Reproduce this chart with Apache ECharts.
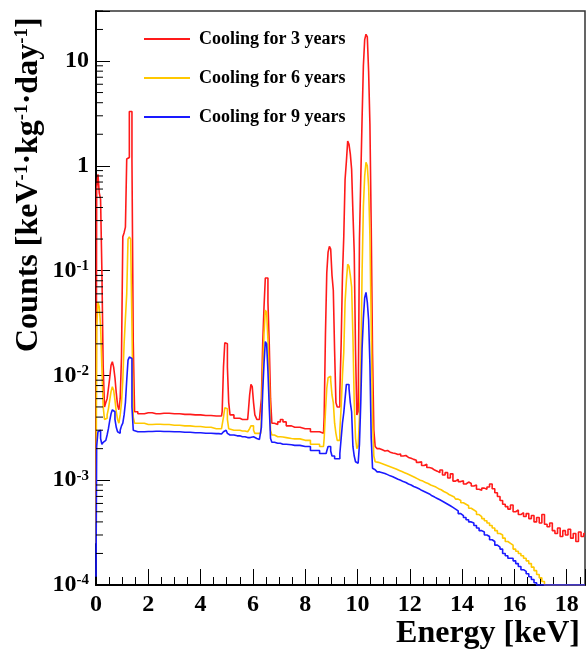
<!DOCTYPE html>
<html>
<head>
<meta charset="utf-8">
<script src="https://cdn.jsdelivr.net/npm/echarts@6/dist/echarts.min.js"></script>
<style>
html,body{margin:0;padding:0;background:#fff;}
#chart{width:587px;height:653px;}
</style>
</head>
<body>
<div id="chart"></div>
<script>
// ---- Energy bins (keV) ----
const energy = [
  0,0.05,0.1,0.15,0.2,0.25,0.3,0.35,0.4,0.45,0.5,0.55,0.6,0.65,0.7,0.75,0.8,0.85,0.9,0.95,1.0,1.05,1.1,1.15,1.2,1.25,1.3,1.35,1.4,1.45,1.5,
  1.7,2.0,2.3,2.6,3.0,3.4,3.8,4.2,4.6,4.8,
  4.85,4.9,4.95,5.0,5.05,5.1,5.15,5.4,5.6,5.8,5.85,5.9,5.95,6.0,6.05,6.1,6.2,6.3,6.35,6.4,6.45,6.5,6.55,6.6,6.65,6.7,6.75,
  6.9,7.0,7.1,7.2,7.35,7.6,8.0,8.4,8.7,
  8.75,8.8,8.85,8.9,8.95,9.0,9.05,9.1,9.15,9.2,9.25,9.3,9.35,9.4,9.45,9.5,9.55,9.6,9.65,9.7,9.75,9.8,9.85,9.9,9.95,10.0,10.05,10.1,10.15,10.2,10.25,10.3,10.35,10.4,10.45,10.5,10.55,10.6,10.65,10.7,
  10.8,10.9,11.0,11.1,11.2,11.3,11.4,11.5,11.6,11.7,11.8,11.9,12.0,12.1,12.2,12.3,12.4,12.5,12.6,12.7,12.8,12.9,13.0,13.1,13.2,13.3,13.4,13.5,13.6,13.7,13.8,13.9,14.0,14.1,14.2,14.3,14.4,14.5,14.6,14.7,14.8,14.9,15.0,15.1,15.2,15.3,15.4,15.5,15.6,15.7,15.8,15.9,16.0,16.1,16.2,16.3,16.4,16.5,16.6,16.7,16.8,16.9,17.0,17.1,17.2,17.3,17.4,17.5,17.6,17.7,17.8,17.9,18.0,18.1,18.2,18.3,18.4,18.5,18.6,18.7
];

// ---- Cooling for 3 years ----
const cooling3 = [
  0.0004,0.6,0.83,0.55,0.48,0.1,0.012,0.005,0.0055,0.006,0.0075,0.0095,0.0125,0.0135,0.012,0.0095,0.0068,0.0052,0.0047,0.006,0.015,0.21,0.23,0.26,1.16,1.2,3.3,3.3,1.15,0.02,0.0045,
  0.0043,0.0044,0.0043,0.00435,0.0043,0.00425,0.0042,0.00415,0.0041,0.0041,
  0.0045,0.012,0.0205,0.02,0.012,0.0055,0.0042,0.0039,0.0038,0.0038,0.0045,0.0065,0.0082,0.0078,0.0055,0.0042,0.0038,0.0038,0.006,0.02,0.045,0.085,0.085,0.05,0.02,0.006,0.0035,
  0.0034,0.0036,0.0038,0.0036,0.0033,0.0032,0.0031,0.0029,0.0028,
  0.004,0.025,0.095,0.15,0.17,0.16,0.09,0.065,0.017,0.0055,0.005,0.005,0.007,0.02,0.09,0.21,0.74,1.1,1.72,1.6,1.3,0.93,0.36,0.15,0.017,0.0042,0.0045,0.2,0.75,2.8,9,16,18,17,8,2.5,0.26,0.016,0.003,0.0021,
  0.002,0.00195,0.0019,0.00192,0.00185,0.00182,0.0018,0.00176,0.00178,0.0017,0.00172,0.00165,0.00162,0.00158,0.00155,0.00148,0.0015,0.00138,0.00142,0.00132,0.0013,0.00125,0.00122,0.00118,0.00125,0.00112,0.00118,0.00105,0.00115,0.00098,0.00102,0.00097,0.00099,0.00092,0.00096,0.00093,0.00088,0.0009,0.00082,0.0008,0.00084,0.00082,0.00086,0.00092,0.00083,0.00076,0.0007,0.00064,0.00059,0.00056,0.00053,0.00058,0.0005,0.00052,0.00047,0.00049,0.00045,0.00048,0.00043,0.00046,0.0004,0.00044,0.00039,0.00047,0.00038,0.00036,0.00039,0.00033,0.00031,0.00035,0.00029,0.00033,0.0003,0.00034,0.00028,0.00031,0.00026,0.00032,0.00029,0.00031
];

// ---- Cooling for 6 years ----
const cooling6 = [
  0.00025,0.028,0.05,0.045,0.03,0.012,0.005,0.0038,0.0039,0.0042,0.0048,0.0058,0.007,0.0078,0.0072,0.0058,0.0045,0.0038,0.0035,0.0042,0.0055,0.009,0.02,0.035,0.06,0.2,0.21,0.2,0.03,0.004,0.0035,
  0.0035,0.0034,0.00342,0.0034,0.00335,0.0033,0.00325,0.0032,0.0031,0.0031,
  0.0032,0.004,0.0049,0.0048,0.0038,0.0031,0.003,0.003,0.00295,0.0029,0.003,0.0031,0.0033,0.0033,0.003,0.0028,0.0028,0.0028,0.004,0.011,0.025,0.042,0.04,0.022,0.009,0.003,0.0027,
  0.0026,0.0026,0.00258,0.00255,0.0025,0.00248,0.0024,0.0022,0.0021,
  0.0025,0.0045,0.0075,0.0095,0.0098,0.009,0.0065,0.0055,0.0035,0.0028,0.0024,0.0024,0.003,0.005,0.01,0.0166,0.05,0.08,0.115,0.11,0.09,0.07,0.0235,0.0055,0.0025,0.002,0.0021,0.004,0.0114,0.096,0.41,0.8,1.08,1.0,0.64,0.215,0.03,0.0038,0.0017,0.0015,
  0.00148,0.00145,0.00142,0.00139,0.00136,0.00133,0.0013,0.00127,0.00124,0.00121,0.00118,0.00115,0.00112,0.00109,0.00106,0.00103,0.001,0.00098,0.00095,0.00093,0.0009,0.00088,0.00086,0.00083,0.00081,0.00078,0.00076,0.00073,0.00071,0.00069,0.00066,0.00064,0.00061,0.00059,0.00057,0.00054,0.00052,0.0005,0.00047,0.00045,0.00043,0.00041,0.00039,0.00037,0.00035,0.00033,0.00031,0.0003,0.00028,0.00026,0.00025,0.00024,0.00022,0.00021,0.0002,0.00019,0.00018,0.00017,0.00016,0.000148,0.000137,0.000126,0.000117,0.000108,0.0001,
  0.0001,0.0001,0.0001,0.0001,0.0001,0.0001,0.0001,0.0001,0.0001,0.0001,0.0001,0.0001,0.0001,0.0001,0.0001
];

// ---- Cooling for 9 years ----
const cooling9 = [
  0.00012,0.0021,0.0029,0.003,0.0025,0.0022,0.0023,0.0024,0.0025,0.0027,0.0031,0.0037,0.0043,0.0047,0.0045,0.0038,0.0032,0.0029,0.0028,0.003,0.0033,0.0035,0.0042,0.0055,0.009,0.014,0.015,0.0145,0.005,0.003,0.0029,
  0.0029,0.00292,0.00293,0.00292,0.0029,0.00287,0.00284,0.00281,0.00278,0.00276,
  0.00277,0.0029,0.003,0.003,0.0028,0.0027,0.0027,0.00265,0.0026,0.00255,0.00255,0.00255,0.0026,0.0026,0.0025,0.0025,0.00245,0.0024,0.0032,0.007,0.013,0.021,0.02,0.011,0.005,0.0025,0.0023,
  0.00225,0.00225,0.0022,0.0022,0.00218,0.00215,0.0021,0.00192,0.0018,
  0.0018,0.0018,0.0019,0.0021,0.0021,0.0019,0.0017,0.0017,0.0016,0.0016,0.0016,0.0016,0.0018,0.0025,0.0035,0.0044,0.006,0.0082,0.0082,0.0075,0.0055,0.0045,0.0021,0.0017,0.0015,0.00145,0.0015,0.0022,0.0055,0.018,0.035,0.055,0.062,0.05,0.034,0.0128,0.0025,0.0013,0.00126,0.00124,
  0.0012,0.00118,0.00116,0.00113,0.0011,0.00108,0.00105,0.00102,0.001,0.00097,0.00095,0.00092,0.0009,0.00087,0.00085,0.00083,0.0008,0.00078,0.00076,0.00074,0.00071,0.00069,0.00067,0.00065,0.00063,0.00061,0.00059,0.00057,0.00055,0.00053,0.00051,0.00048,0.00046,0.00044,0.00042,0.0004,0.00039,0.00037,0.00035,0.00033,0.00032,0.0003,0.00029,0.00027,0.00026,0.00024,0.00023,0.00022,0.0002,0.00019,0.00018,0.00018,0.00017,0.00016,0.00015,0.00014,0.000135,0.000128,0.00012,0.000113,0.000105,0.0001,
  0.0001,0.0001,0.0001,0.0001,0.0001,0.0001,0.0001,0.0001,0.0001,0.0001,0.0001,0.0001,0.0001,0.0001,0.0001,0.0001,0.0001,0.0001
];

const seriesNames = ['Cooling for 3 years', 'Cooling for 6 years', 'Cooling for 9 years'];
const seriesColors = ['#ff1a1a', '#ffc800', '#1a1aff'];
const xTicks = [0,2,4,6,8,10,12,14,16,18];
const yMajorTicks = [1e-4,1e-3,1e-2,1e-1,1,10];
const yMinorMantissa = [2,3,4,5,6,7,8,9];

const SERIF = '"Liberation Serif", "DejaVu Serif", serif';
const yMin = 1e-4, yMax = 30;

function pairs(vals){
  if (vals.length !== energy.length) console.error('length mismatch', vals.length, energy.length);
  return vals.map((v,i)=>[energy[i], v]);
}

const yMinor = [];
yMajorTicks.forEach(d => yMinorMantissa.forEach(m => { const v = m*d; if (v <= yMax + 1e-9) yMinor.push(v); }));

function yLabel(v){
  for (let i=0;i<yMajorTicks.length;i++){
    const t = yMajorTicks[i];
    if (Math.abs(v/t - 1) < 1e-6){
      const e = Math.round(Math.log10(t));
      if (e === 0) return '{b|1}';
      if (e === 1) return '{b|10}';
      return '{b|10}{s|' + e + '}';
    }
  }
  return '';
}

const chart = echarts.init(document.getElementById('chart'), null, {renderer:'canvas'});
const lineSeries = [cooling3, cooling6, cooling9].map((vals, i) => ({
  name: seriesNames[i],
  type: 'line',
  step: 'middle',
  data: pairs(vals),
  symbol: 'none',
  showSymbol: false,
  lineStyle: {color: seriesColors[i], width: 1.6},
  itemStyle: {color: seriesColors[i]},
  z: 3 + i,
  animation: false
}));

chart.setOption({
  animation: false,
  backgroundColor: '#fff',
  grid: {left: 96, right: 2, top: 11, bottom: 68, show: true, borderColor: '#333', borderWidth: 1.5, backgroundColor: 'transparent'},
  legend: {
    data: seriesNames,
    orient: 'vertical',
    left: 139, top: 25,
    icon: 'rect',
    itemWidth: 46, itemHeight: 2, itemGap: 21,
    textStyle: {fontFamily: SERIF, fontWeight: 'bold', fontSize: 18, color: '#000', padding: [0,0,0,4]}
  },
  xAxis: {
    type: 'value', min: 0, max: 18.7, interval: 2,
    axisLine: {lineStyle: {color: '#000', width: 2}},
    axisTick: {inside: true, length: 16, lineStyle: {color: '#000', width: 1}},
    minorTick: {show: true, splitNumber: 4, length: 8, lineStyle: {color: '#000', width: 1}},
    splitLine: {show: false},
    axisLabel: {showMaxLabel: false, margin: 8, color: '#000', fontFamily: SERIF, fontWeight: 'bold', fontSize: 24,
      formatter: v => (xTicks.indexOf(v) >= 0 ? String(v) : '')}
  },
  yAxis: {
    type: 'log', logBase: 10, min: yMin, max: yMax,
    axisLine: {lineStyle: {color: '#000', width: 2}},
    axisTick: {inside: true, length: 14, lineStyle: {color: '#000', width: 1}},
    splitLine: {show: false},
    axisLabel: {
      margin: 7, color: '#000',
      formatter: yLabel,
      rich: {
        b: {fontFamily: SERIF, fontWeight: 'bold', fontSize: 24, color: '#000', lineHeight: 24, verticalAlign: 'bottom'},
        s: {fontFamily: SERIF, fontWeight: 'bold', fontSize: 15, color: '#000', lineHeight: 15, verticalAlign: 'top', padding: [0,0,10,0]}
      }
    }
  },
  graphic: [
    {
      type: 'text', x: 29, y: 352, rotation: Math.PI/2,
      style: {
        text: '{m|Counts [keV}{s|-1}{m|·kg}{s|-1}{m|·day}{s|-1}{m|]}',
        align: 'left', verticalAlign: 'middle', textAlign: 'left', textVerticalAlign: 'middle',
        rich: {
          m: {fontFamily: SERIF, fontWeight: 'bold', fontSize: 32, fill: '#000', lineHeight: 32, verticalAlign: 'bottom'},
          s: {fontFamily: SERIF, fontWeight: 'bold', fontSize: 19, fill: '#000', lineHeight: 19, verticalAlign: 'top', padding: [0,0,12,0]}
        }
      }
    },
    {
      type: 'text', x: 580, y: 634,
      style: {text: 'Energy [keV]', align: 'right', verticalAlign: 'middle', textAlign: 'right', textVerticalAlign: 'middle',
        font: 'bold 32px ' + SERIF, fill: '#000'}
    }
  ],
  series: lineSeries.concat([{
    type: 'custom', silent: true, clip: false, z: 10,
    data: yMinor.map(v => [0, v]),
    encode: {x: 0, y: 1},
    renderItem: function(params, api){
      const p = api.coord([0, api.value(1)]);
      return {type: 'line', shape: {x1: p[0], y1: p[1], x2: p[0] + 7, y2: p[1]}, style: {stroke: '#000', lineWidth: 1}};
    }
  }])
});
</script>
</body>
</html>
